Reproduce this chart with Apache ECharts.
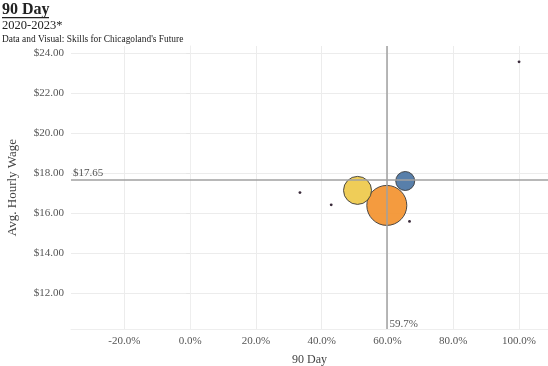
<!DOCTYPE html>
<html><head><meta charset="utf-8">
<script src="https://cdn.jsdelivr.net/npm/echarts@6/dist/echarts.min.js"></script>
<style>html,body{margin:0;padding:0;background:#fff}#c{width:548px;height:366px}</style>
</head><body><div id="c"></div>
<script>
// Data
const groups   = ['A', 'B', 'C', 'D', 'E', 'F', 'G'];
const pct90    = [59.8, 50.9, 65.4, 33.4, 42.9, 66.7, 100.0];
const wage     = [16.38, 17.13, 17.60, 17.02, 16.41, 15.58, 23.56];
const counts   = [400, 196, 90, 2, 2, 2, 2];
const colors   = ['#f3922f', '#eec94a', '#4a74a3', '#3a2a3a', '#3a2a3a', '#3a2a3a', '#3a2a3a'];
const xTicks   = [-20, 0, 20, 40, 60, 80, 100];
const yTicks   = [12, 14, 16, 18, 20, 22, 24];
const refX     = 59.7;
const refY     = 17.65;

const X_MIN = -36.2, X_MAX = 108.8, Y_MIN = 10.2, Y_MAX = 24.35;
const FONT = '"Liberation Serif", "Times New Roman", serif';

const data = groups.map((g, i) => ({
  name: g,
  value: [pct90[i], wage[i], counts[i]],
  itemStyle: { color: colors[i], opacity: counts[i] > 10 ? 0.92 : 1,
               borderColor: counts[i] > 10 ? '#3d3d3d' : colors[i], borderWidth: counts[i] > 10 ? 1 : 0 }
}));

const chart = echarts.init(document.getElementById('c'), null, { renderer: 'canvas' });
chart.setOption({
  animation: false,
  backgroundColor: '#fff',
  textStyle: { fontFamily: FONT },
  graphic: [
    { type: 'text', left: 2, top: 2, style: { text: '90 Day', font: 'bold 16px ' + FONT, fill: '#222' } },
    { type: 'rect', left: 2, top: 17, shape: { width: 47, height: 1.2 }, style: { fill: '#222' } },
    { type: 'text', left: 2, top: 19, style: { text: '2020-2023*', font: '12.5px ' + FONT, fill: '#222' } },
    { type: 'text', left: 2, top: 35, style: { text: "Data and Visual: Skills for Chicagoland's Future", font: '9.4px ' + FONT, fill: '#222' } }
  ],
  grid: { left: 71, right: 0, top: 46, bottom: 37, containLabel: false, outerBoundsMode: 'none' },
  xAxis: {
    type: 'value', min: X_MIN, max: X_MAX,
    name: '90 Day', nameLocation: 'middle', nameGap: 25,
    nameTextStyle: { fontFamily: FONT, fontSize: 12, color: '#444' },
    axisLine: { show: true, lineStyle: { color: '#eeeeee' } },
    axisTick: { show: false, customValues: xTicks },
    axisLabel: { customValues: xTicks, formatter: v => v.toFixed(1) + '%', fontFamily: FONT, fontSize: 11, color: '#555', margin: 7 },
    splitLine: { show: true, lineStyle: { color: '#ececec', width: 1 } }
  },
  yAxis: {
    type: 'value', min: Y_MIN, max: Y_MAX,
    name: 'Avg. Hourly Wage', nameLocation: 'middle', nameGap: 52, nameRotate: 90,
    nameTextStyle: { fontFamily: FONT, fontSize: 13, color: '#444' },
    axisLine: { show: true, lineStyle: { color: '#eeeeee' } },
    axisTick: { show: true, customValues: yTicks, length: 4, lineStyle: { color: '#e6e6e6' } },
    axisLabel: { customValues: yTicks, formatter: v => '$' + v.toFixed(2), fontFamily: FONT, fontSize: 11, color: '#555', margin: 7 },
    splitLine: { show: true, lineStyle: { color: '#ececec', width: 1 } }
  },
  series: [{
    type: 'scatter',
    data: data,
    symbolSize: v => 2 * Math.sqrt(v[2]),
    z: 3,
    markLine: {
      silent: true, symbol: 'none', animation: false,
      lineStyle: { color: '#a0a0a0', width: 1.5, type: 'solid' },
      label: { show: false },
      data: [{ xAxis: refX }, { yAxis: refY }]
    },
    markPoint: {
      silent: true, symbol: 'circle', symbolSize: 0, animation: false,
      data: [
        { coord: [refX, Y_MIN], label: { show: true, formatter: refX.toFixed(1) + '%', position: 'right', offset: [-2, -5], fontFamily: FONT, fontSize: 11, color: '#555' } },
        { coord: [X_MIN, refY], label: { show: true, formatter: '$' + refY.toFixed(2), position: 'right', offset: [-3, -7], fontFamily: FONT, fontSize: 11, color: '#555' } }
      ]
    }
  }]
});
</script></body></html>
